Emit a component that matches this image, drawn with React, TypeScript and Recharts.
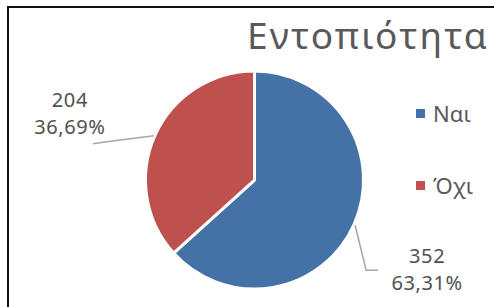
import { PieChart, Pie, Cell, Legend } from "recharts";

const categories = ["Ναι", "Όχι"];
const counts = [352, 204];
const percents = ["63,31%", "36,69%"];
const colors = ["#4472A6", "#BE504D"];

const data = categories.map((name, i) => ({ name, value: counts[i], pct: percents[i] }));

const FONT = "'Century Gothic', 'Noto Sans', 'DejaVu Sans', sans-serif";
const RAD = Math.PI / 180;

// Excel-style callout: text placed off to the side with an elbow leader line
const renderLabel = (props: any) => {
  const { cx, cy, midAngle, outerRadius, index, payload } = props;
  const ax = cx + outerRadius * Math.cos(-midAngle * RAD);
  const ay = cy + outerRadius * Math.sin(-midAngle * RAD);
  const right = ax > cx;
  const line = right
    ? `M${ax + 1},${ay + 1} L${ax + 12},${ay + 46} L${ax + 24},${ay + 46}`
    : `M${ax - 1},${ay} L${ax - 48},${ay + 6} L${ax - 62},${ay + 8}`;
  const tx = right ? ax + 73 : ax - 85;
  const ty = right ? ay + 31 : ay - 36;
  const textProps = {
    textAnchor: "middle" as const,
    dominantBaseline: "central" as const,
    fill: "#505050",
    fontSize: 20,
    letterSpacing: 0.6,
    fontFamily: FONT,
  };
  return (
    <g key={`lbl-${index}`}>
      <path d={line} stroke="#A6A6A6" strokeWidth={1.5} fill="none" />
      <text x={tx} y={ty} {...textProps}>
        {payload.value}
      </text>
      <text x={tx} y={ty + 27} {...textProps}>
        {payload.pct}
      </text>
    </g>
  );
};

const renderLegend = () => (
  <div style={{ fontFamily: FONT }}>
    {categories.map((c, i) => (
      <div key={c} style={{ display: "flex", alignItems: "center", height: 72 }}>
        <span style={{ width: 9, height: 9, background: colors[i], marginRight: 8, display: "inline-block" }} />
        <span style={{ fontSize: 22, color: "#595959" }}>{c}</span>
      </div>
    ))}
  </div>
);

export default function App() {
  return (
    <div style={{ position: "absolute", left: 0, top: 0, width: 494, height: 307, overflow: "hidden", background: "#fff" }}>
      <div
        style={{
          position: "absolute",
          left: 7,
          top: 6,
          width: 520,
          height: 330,
          border: "2.5px solid #111",
          boxSizing: "border-box",
        }}
      />
      <div
        style={{
          position: "absolute",
          left: 247,
          top: 11,
          fontFamily: FONT,
          fontSize: 37,
          letterSpacing: 2.2,
          color: "#595959",
          lineHeight: "48px",
          whiteSpace: "nowrap",
        }}
      >
        Εντοπιότητα
      </div>
      <div style={{ position: "absolute", left: 0, top: 0 }}>
        <PieChart width={494} height={307} margin={{ top: 0, right: 0, bottom: 0, left: 0 }}>
          <Pie
            data={data}
            dataKey="value"
            nameKey="name"
            cx={254.5}
            cy={180}
            outerRadius={109}
            startAngle={90}
            endAngle={-270}
            stroke="#fff"
            strokeWidth={3}
            label={renderLabel}
            labelLine={false}
            isAnimationActive={false}
          >
            {data.map((d, i) => (
              <Cell key={d.name} fill={colors[i]} />
            ))}
          </Pie>
          <Legend
            layout="vertical"
            verticalAlign="top"
            align="right"
            content={renderLegend}
            wrapperStyle={{ left: 416, top: 77, width: 80 }}
          />
        </PieChart>
      </div>
    </div>
  );
}
